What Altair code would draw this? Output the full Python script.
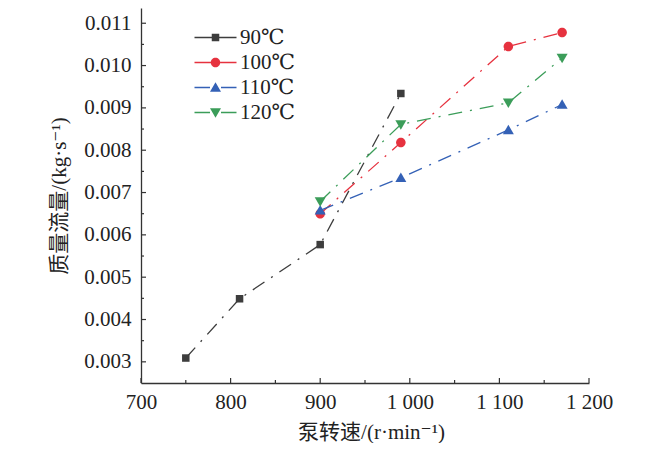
import altair as alt
import pandas as pd

# ---------------- data ----------------
series = ["90℃", "100℃", "110℃", "120℃"]
rpm_90 = [750, 810, 900, 990]
flow_90 = [0.00309, 0.00449, 0.00577, 0.00934]
rpm_100 = [900, 990, 1110, 1170]
flow_100 = [0.00650, 0.00818, 0.01045, 0.01078]
rpm_110 = [900, 990, 1110, 1170]
flow_110 = [0.00658, 0.00735, 0.00848, 0.00908]
rpm_120 = [900, 990, 1110, 1170]
flow_120 = [0.00679, 0.00861, 0.00912, 0.01018]

x_major = [700, 800, 900, 1000, 1100, 1200]
x_labels = ["700", "800", "900", "1 000", "1 100", "1 200"]
x_minor = [750, 850, 950, 1050, 1150]
y_major = [0.003, 0.004, 0.005, 0.006, 0.007, 0.008, 0.009, 0.010, 0.011]
y_minor = [0.0035, 0.0045, 0.0055, 0.0065, 0.0075, 0.0085, 0.0095, 0.0105]

colors = ["#3d3d3d", "#e6323f", "#3461b6", "#3b9d59"]

# ---------------- styling ----------------
W, H = 448, 375
AX = "#333333"
SERIF = "Liberation Serif, DejaVu Serif, serif, Noto Sans CJK SC"
FS = 21

marker_paths = [
    "M-0.75,-0.75H0.75V0.75H-0.75Z",
    "M-0.95,0A0.95,0.95 0 1,1 0.95,0A0.95,0.95 0 1,1 -0.95,0Z",
    "M0,-1.05L1.1,0.85H-1.1Z",
    "M-1.1,-0.85H1.1L0,1.05Z",
]
half_w = [0.75, 0.95, 1.1, 1.1]
legend_paths = [
    p + f" M-4.2,-0.13H-{m}V0.13H-4.2Z M{m},-0.13H4.2V0.13H{m}Z"
    for p, m in zip(marker_paths, half_w)
]

rows = []
for name, xs, ys in [
    (series[0], rpm_90, flow_90),
    (series[1], rpm_100, flow_100),
    (series[2], rpm_110, flow_110),
    (series[3], rpm_120, flow_120),
]:
    for i, (a, b) in enumerate(zip(xs, ys)):
        rows.append({"series": name, "rpm": a, "flow": b, "idx": i})
df = pd.DataFrame(rows)

xscale = alt.Scale(domain=[700, 1200], nice=False, zero=False)
yscale = alt.Scale(domain=[0.0025, 0.01136], nice=False, zero=False)

label_expr = " : ".join(
    f"datum.value == {v} ? '{t}'" for v, t in zip(x_major, x_labels)
) + " : ''"

x_axis = alt.Axis(
    values=x_major, labelExpr=label_expr, ticks=False, grid=False,
    labelFlush=False, labelOverlap=False, labelBound=False,
    domainColor=AX, domainWidth=1.3, labelFont=SERIF, labelFontSize=FS,
    labelColor="#222222", labelPadding=8, title="泵转速/(r·min⁻¹)",
    titleFont=SERIF, titleFontSize=FS, titleFontWeight="normal",
    titleColor="#222222", titlePadding=9, titleX=230,
)
y_axis = alt.Axis(
    values=y_major, format=".3f", ticks=False, grid=False,
    labelFlush=False, labelOverlap=False, labelBound=False,
    domainColor=AX, domainWidth=1.3, labelFont=SERIF, labelFontSize=FS,
    labelColor="#222222", labelPadding=10, title="质量流量/(kg·s⁻¹)",
    titleFont=SERIF, titleFontSize=FS, titleFontWeight="normal",
    titleColor="#222222", titlePadding=14,
)

X = alt.X("rpm:Q", scale=xscale, axis=x_axis)
Y = alt.Y("flow:Q", scale=yscale, axis=y_axis)

lines = alt.Chart(df).mark_line(strokeWidth=1.3, strokeDash=[14, 8, 2, 8]).encode(
    x=X, y=Y,
    color=alt.Color("series:N", scale=alt.Scale(domain=series, range=colors), legend=None),
    detail="series:N",
    order=alt.Order("idx:Q"),
)

points = alt.Chart(df).mark_point(filled=True, size=100, opacity=1).encode(
    x=X, y=Y,
    color=alt.Color("series:N", scale=alt.Scale(domain=series, range=colors), legend=None),
    shape=alt.Shape("series:N", scale=alt.Scale(domain=series, range=marker_paths), legend=None),
)

leg = dict(
    orient="none", legendX=64, legendY=19, title=None, padding=0,
    labelFont=SERIF, labelFontSize=FS, labelColor="#222222",
    symbolSize=100, labelOffset=14, rowPadding=3, symbolStrokeWidth=0,
)
legend_layer = alt.Chart(df).transform_filter("false").mark_point(filled=True, opacity=1).encode(
    x=X, y=Y,
    color=alt.Color("series:N", scale=alt.Scale(domain=series, range=colors),
                    legend=alt.Legend(**leg)),
    shape=alt.Shape("series:N", scale=alt.Scale(domain=series, range=legend_paths),
                    legend=alt.Legend(**leg)),
)

xt_major = alt.Chart(pd.DataFrame({"rpm": x_major})).mark_rule(color=AX, strokeWidth=1.2).encode(
    x=X, y=alt.value(H), y2=alt.value(H - 5))
xt_minor = alt.Chart(pd.DataFrame({"rpm": x_minor})).mark_rule(color=AX, strokeWidth=1.2).encode(
    x=X, y=alt.value(H), y2=alt.value(H - 3))
yt_major = alt.Chart(pd.DataFrame({"flow": y_major})).mark_rule(color=AX, strokeWidth=1.2).encode(
    y=Y, x=alt.value(0), x2=alt.value(5))
yt_minor = alt.Chart(pd.DataFrame({"flow": y_minor})).mark_rule(color=AX, strokeWidth=1.2).encode(
    y=Y, x=alt.value(0), x2=alt.value(3))

chart = alt.layer(
    lines, xt_major, xt_minor, yt_major, yt_minor, points, legend_layer
).resolve_scale(
    color="independent", shape="independent"
).resolve_legend(
    color="independent", shape="independent"
).properties(
    width=W, height=H,
    autosize=alt.AutoSizeParams(type="none"),
    padding={"left": 133, "top": 0, "right": 53, "bottom": 60},
    background="white",
).configure_view(stroke="transparent")

chart.save("out.html", embed_options={"renderer": "svg", "actions": False})
